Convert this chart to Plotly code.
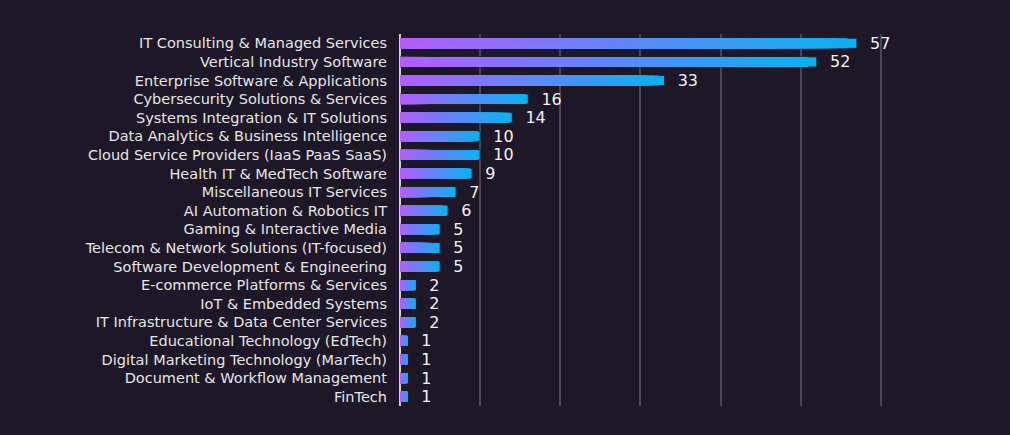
import plotly.graph_objects as go

CATEGORIES = [
    "IT Consulting & Managed Services",
    "Vertical Industry Software",
    "Enterprise Software & Applications",
    "Cybersecurity Solutions & Services",
    "Systems Integration & IT Solutions",
    "Data Analytics & Business Intelligence",
    "Cloud Service Providers (IaaS PaaS SaaS)",
    "Health IT & MedTech Software",
    "Miscellaneous IT Services",
    "AI Automation & Robotics IT",
    "Gaming & Interactive Media",
    "Telecom & Network Solutions (IT-focused)",
    "Software Development & Engineering",
    "E-commerce Platforms & Services",
    "IoT & Embedded Systems",
    "IT Infrastructure & Data Center Services",
    "Educational Technology (EdTech)",
    "Digital Marketing Technology (MarTech)",
    "Document & Workflow Management",
    "FinTech",
]
COUNTS = [57, 52, 33, 16, 14, 10, 10, 9, 7, 6, 5, 5, 5, 2, 2, 2, 1, 1, 1, 1]

BG = "#1d1727"
LEFT_COLOR = (180, 92, 255)
RIGHT_COLOR = (8, 178, 240)
STEPS = 48


def _mix(t: float) -> str:
    r, g, b = (round(a + (c - a) * t) for a, c in zip(LEFT_COLOR, RIGHT_COLOR))
    return f"rgb({r},{g},{b})"


fig = go.Figure()

# gradient bars: overlay progressively shorter bars, each a step further toward purple
for step in range(STEPS, 0, -1):
    frac = step / STEPS
    first = step == STEPS
    fig.add_trace(
        go.Bar(
            x=[v * frac for v in COUNTS],
            y=CATEGORIES,
            orientation="h",
            marker=dict(
                color=_mix((step - 1) / (STEPS - 1)),
                line=dict(color="#1a2a44" if first else "rgba(0,0,0,0)", width=1 if first else 0),
            ),
            text=[f"  {v}" for v in COUNTS] if first else None,
            textposition="outside",
            constraintext="none",
            textfont=dict(color="#f2f2f2", size=16),
            cliponaxis=False,
            hoverinfo="skip" if not first else None,
            showlegend=False,
        )
    )

fig.update_layout(
    width=1010,
    height=435,
    paper_bgcolor=BG,
    plot_bgcolor=BG,
    barmode="overlay",
    bargap=0.46,
    margin=dict(l=400, r=89, t=34, b=29),
    font=dict(family="DejaVu Sans, sans-serif", color="#e6e6e6", size=14.5),
    xaxis=dict(
        range=[0, 65],
        dtick=10,
        showticklabels=False,
        showgrid=True,
        gridcolor="#4a4552",
        gridwidth=1.5,
        zeroline=True,
        zerolinecolor="#d0d0d0",
        zerolinewidth=2,
    ),
    yaxis=dict(
        autorange="reversed",
        showgrid=False,
        ticks="",
        ticklabelstandoff=12,
        tickfont=dict(size=14.5, color="#e6e6e6"),
    ),
)

fig.write_html(
    "out.html",
    config={"displayModeBar": False},
    post_script="document.body.style.margin='0';",
)
